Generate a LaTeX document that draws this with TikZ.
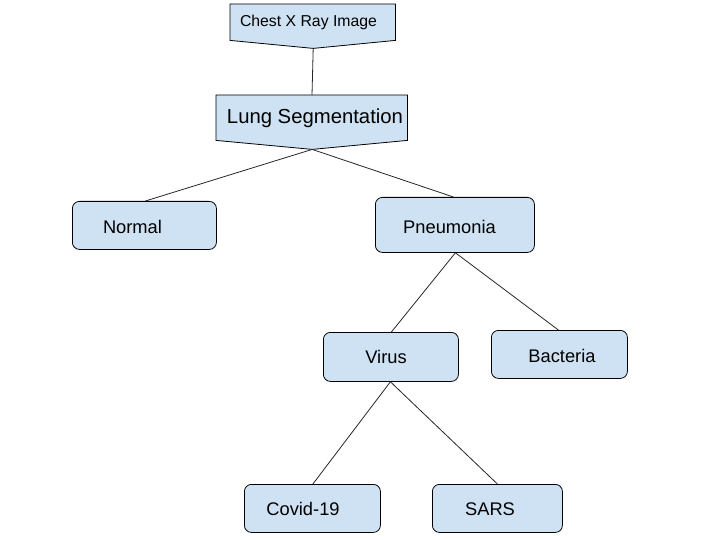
\documentclass[tikz,border=0pt]{standalone}
\usepackage{fontspec}
\setmainfont{Liberation Sans}
\usetikzlibrary{calc}
\definecolor{boxblue}{HTML}{CFE2F3}
\tikzset{
  box/.style={draw=black, fill=boxblue, line width=0.8pt, rounded corners=7pt, anchor=north west, inner sep=0pt},
  lbl/.style={inner sep=0pt, font=\fontsize{18.3}{22}\selectfont},
  frame/.style={draw=none, inner sep=0pt, anchor=north west},
  penta/.style={draw=black, fill=boxblue, line width=0.8pt},
  conn/.style={draw=black!85, line width=0.8pt}
}
\begin{document}
\begin{tikzpicture}[x=1pt,y=-1pt]
\useasboundingbox (0,0) rectangle (720,540);
% top pentagon shapes
\node[frame, minimum width=165pt, minimum height=36pt] (chest) at (230,4) {};
\coordinate (chesttip) at ($(chest.south)+(0.5,8)$);
\path[penta] (chest.north west) -- (chest.north east) -- (chest.south east) -- (chesttip) -- (chest.south west) -- cycle;
\node[inner sep=0pt, font=\fontsize{15.8}{19}\selectfont] (chesttxt) at (308.5,22.5) {Chest X Ray Image};

\node[frame, minimum width=191pt, minimum height=45pt] (lung) at (216,95) {};
\coordinate (lungtop) at (312,95);
\coordinate (lungtip) at ($(lung.south)+(0.5,9)$);
\path[penta] (lung.north west) -- (lung.north east) -- (lung.south east) -- (lungtip) -- (lung.south west) -- cycle;
\node[inner sep=0pt, font=\fontsize{20.3}{24}\selectfont] (lungtxt) at (315,118.5) {Lung Segmentation};

% boxes
\node[box, minimum width=144pt, minimum height=48pt] (normal) at (72,201) {};
\node[lbl] at (132.5,227) {Normal};
\node[box, minimum width=159pt, minimum height=55pt] (pneu) at (375,197) {};
\node[lbl] at (449.5,226.5) {Pneumonia};
\node[box, minimum width=135pt, minimum height=49pt] (virus) at (323,332) {};
\node[lbl] at (386,356.5) {Virus};
\node[box, minimum width=136pt, minimum height=48pt] (bact) at (491,330) {};
\node[lbl] at (562,355.5) {Bacteria};
\node[box, minimum width=136pt, minimum height=48pt] (covid) at (244,484) {};
\node[lbl] at (303,509) {Covid-19};
\node[box, minimum width=130pt, minimum height=48pt] (sars) at (432,484) {};
\node[lbl] at (490,509) {SARS};

% connectors
\draw[conn] (chesttip) -- (lungtop);
\draw[conn] (lungtip) -- ($(normal.north)+(1,0)$);
\draw[conn] (lungtip) -- ($(pneu.north)+(-1.5,0)$);
\draw[conn] ($(pneu.south)+(0.5,0)$) -- ($(virus.north)+(0.5,0)$);
\draw[conn] ($(pneu.south)+(0.5,0)$) -- ($(bact.north)+(-1,0)$);
\draw[conn] ($(virus.south)+(-0.5,0)$) -- ($(covid.north)+(0.5,0)$);
\draw[conn] ($(virus.south)+(-0.5,0)$) -- (sars.north);
\end{tikzpicture}
\end{document}
